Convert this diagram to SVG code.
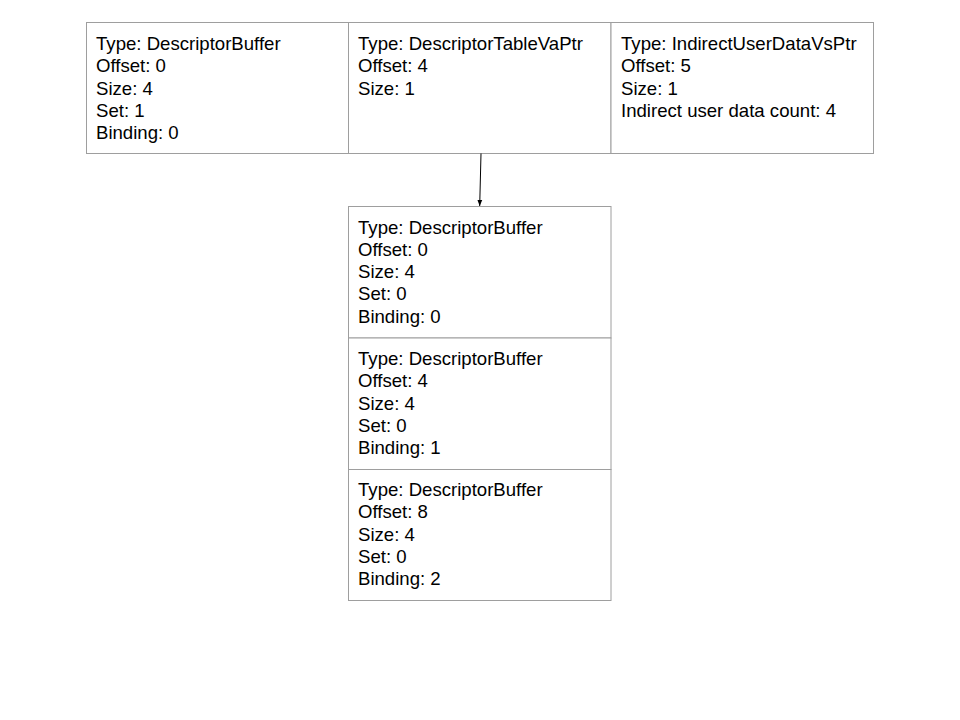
<svg xmlns="http://www.w3.org/2000/svg" width="960" height="720" viewBox="0 0 960 720">
<style>
.box{fill:#ffffff;stroke:#9e9e9e;stroke-width:1}
.t{font-family:"Liberation Sans",Arial,sans-serif;font-size:18.6px;fill:#000000}
.c{stroke:#000000;stroke-width:1;fill:none}
</style>
<defs>
<marker id="ah" viewBox="0 0 10 10" refX="10" refY="5" markerWidth="6" markerHeight="6" orient="auto" markerUnits="userSpaceOnUse">
<path d="M0,1 L10,5 L0,9 z" fill="#000000"/>
</marker>
</defs>
<rect width="960" height="720" fill="#ffffff"/>
<g id="top1">
<rect class="box" x="86.5" y="22.5" width="262" height="131"/>
<text class="t">
<tspan x="96" y="50">Type: DescriptorBuffer</tspan>
<tspan x="96" y="72.3">Offset: 0</tspan>
<tspan x="96" y="94.6">Size: 4</tspan>
<tspan x="96" y="116.9">Set: 1</tspan>
<tspan x="96" y="139.2">Binding: 0</tspan>
</text>
</g>
<g id="top2">
<rect class="box" x="348.5" y="22.5" width="262.5" height="131"/>
<text class="t">
<tspan x="358" y="50">Type: DescriptorTableVaPtr</tspan>
<tspan x="358" y="72.3">Offset: 4</tspan>
<tspan x="358" y="94.6">Size: 1</tspan>
</text>
</g>
<g id="top3">
<rect class="box" x="611" y="22.5" width="262.5" height="131"/>
<text class="t">
<tspan x="621" y="50">Type: IndirectUserDataVsPtr</tspan>
<tspan x="621" y="72.3">Offset: 5</tspan>
<tspan x="621" y="94.6">Size: 1</tspan>
<tspan x="621" y="116.9">Indirect user data count: 4</tspan>
</text>
</g>
<g id="bot1">
<rect class="box" x="348.5" y="206.5" width="262.5" height="131.5"/>
<text class="t">
<tspan x="358" y="233.5">Type: DescriptorBuffer</tspan>
<tspan x="358" y="255.8">Offset: 0</tspan>
<tspan x="358" y="278.1">Size: 4</tspan>
<tspan x="358" y="300.4">Set: 0</tspan>
<tspan x="358" y="322.7">Binding: 0</tspan>
</text>
</g>
<g id="bot2">
<rect class="box" x="348.5" y="338" width="262.5" height="131.5"/>
<text class="t">
<tspan x="358" y="365">Type: DescriptorBuffer</tspan>
<tspan x="358" y="387.3">Offset: 4</tspan>
<tspan x="358" y="409.6">Size: 4</tspan>
<tspan x="358" y="431.9">Set: 0</tspan>
<tspan x="358" y="454.2">Binding: 1</tspan>
</text>
</g>
<g id="bot3">
<rect class="box" x="348.5" y="469.5" width="262.5" height="131"/>
<text class="t">
<tspan x="358" y="496">Type: DescriptorBuffer</tspan>
<tspan x="358" y="518.3">Offset: 8</tspan>
<tspan x="358" y="540.6">Size: 4</tspan>
<tspan x="358" y="562.9">Set: 0</tspan>
<tspan x="358" y="585.2">Binding: 2</tspan>
</text>
</g>
<g id="connectors">
<line class="c" x1="481" y1="153.5" x2="479.7" y2="206" marker-end="url(#ah)"/>
</g>
</svg>
